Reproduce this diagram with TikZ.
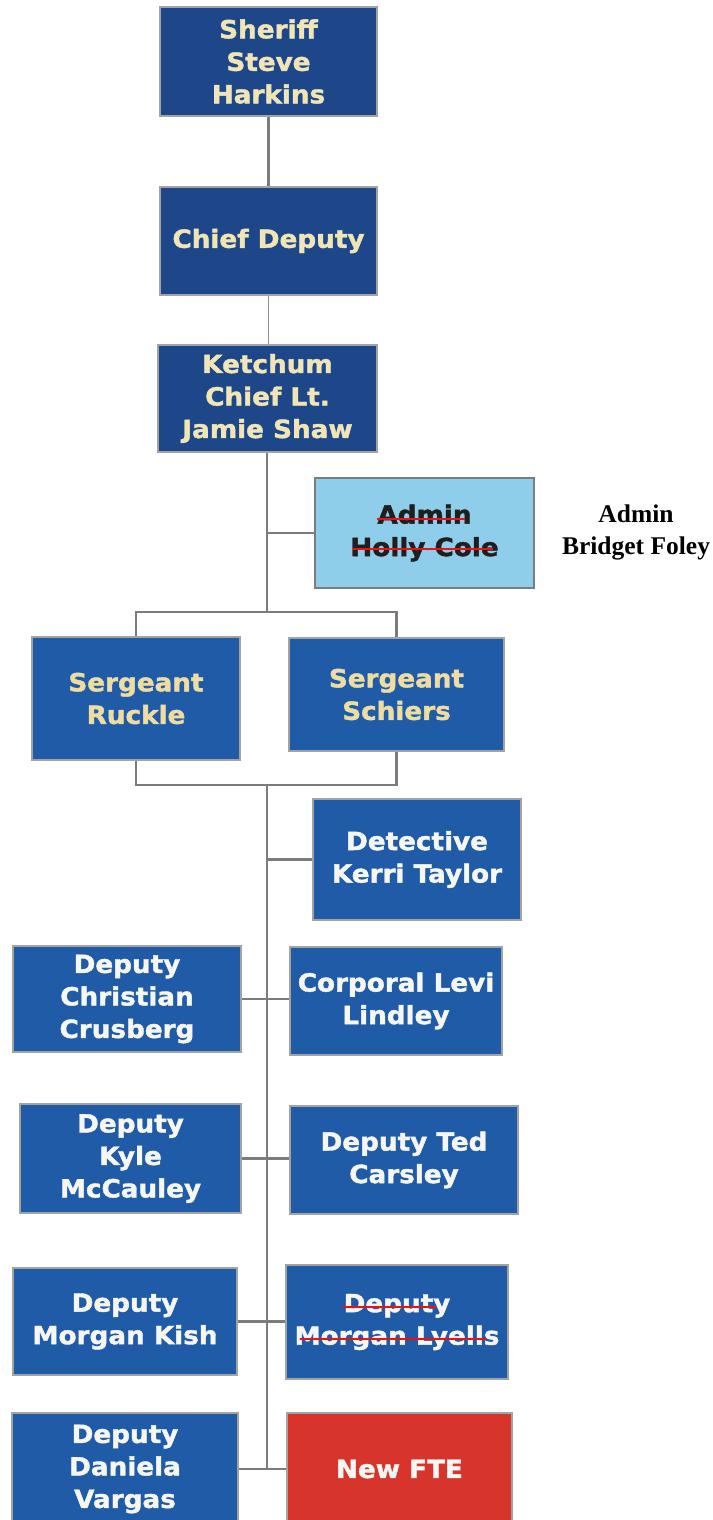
\documentclass[tikz,border=0pt]{standalone}
\usepackage{fontspec}
\newfontfamily\vfont{DejaVu Sans}[BoldFeatures={FakeBold=1.6,FakeStretch=1.05}]
\newfontfamily\sfont{Liberation Serif}
\definecolor{navy}{HTML}{1E4789}
\definecolor{midblue}{HTML}{1F5BA7}
\definecolor{cream}{HTML}{F0E5B6}
\definecolor{sgtcream}{HTML}{EEDDA2}
\definecolor{offwhite}{HTML}{F6F6F2}
\definecolor{adminblue}{HTML}{8FCEEA}
\definecolor{ftered}{HTML}{D7352B}
\definecolor{linegray}{HTML}{7C7C7C}
\definecolor{strike}{HTML}{F01010}
\tikzset{
  box/.style={draw=linegray!70, line width=1.2pt, inner sep=0pt, align=center,
    font=\vfont\bfseries\fontsize{25}{32.5}\selectfont},
  topbox/.style={box, fill=navy, text=cream},
  sgtbox/.style={box, fill=midblue, text=sgtcream},
  depbox/.style={box, fill=midblue, text=offwhite},
  conn/.style={draw=linegray, line width=2.4pt},
  strk/.style={draw=strike, line width=2.8pt},
}
\begin{document}
\begin{tikzpicture}[x=1pt,y=-1pt]
\useasboundingbox (0,0) rectangle (712,1520);
\fill[white] (0,0) rectangle (712,1520);
% nodes
\node[topbox, minimum width=217, minimum height=109] (sheriff) at (268.5,61.5) {Sheriff\\Steve\\Harkins};
\node[topbox, minimum width=217, minimum height=108] (chief) at (268.5,241) {Chief Deputy};
\node[topbox, minimum width=219, minimum height=107] (ketchum) at (267.5,398.5) {Ketchum\\Chief Lt.\\Jamie Shaw};
\node[box, fill=adminblue, draw=linegray, text=black!88, minimum width=219, minimum height=110] (admin) at (424.5,533) {Admin\\Holly Cole};
\node[font=\sfont\bfseries\fontsize{25.5}{32}\selectfont, align=center, inner sep=0pt] (bridget) at (636,532) {Admin\\Bridget Foley};
\node[sgtbox, minimum width=208, minimum height=123] (ruckle) at (136,698.5) {Sergeant\\Ruckle};
\node[sgtbox, minimum width=215, minimum height=113] (schiers) at (396.5,694.5) {Sergeant\\Schiers};
\node[depbox, minimum width=208, minimum height=121] (detective) at (417,859.5) {Detective\\Kerri Taylor};
\node[depbox, minimum width=228, minimum height=106] (crusberg) at (127,999) {Deputy\\Christian\\Crusberg};
\node[depbox, minimum width=212, minimum height=108] (levi) at (396,1001) {Corporal Levi\\Lindley};
\node[depbox, minimum width=221, minimum height=109] (mccauley) at (130.5,1158.5) {Deputy\\Kyle\\McCauley};
\node[depbox, minimum width=228, minimum height=108] (carsley) at (404,1160) {Deputy Ted\\Carsley};
\node[depbox, minimum width=224, minimum height=107] (kish) at (125,1321.5) {Deputy\\Morgan Kish};
\node[depbox, minimum width=222, minimum height=114] (lyells) at (397,1322) {Deputy\\Morgan Lyells};
\node[depbox, minimum width=226, minimum height=112] (vargas) at (125,1469) {Deputy\\Daniela\\Vargas};
\node[box, fill=ftered, text=offwhite, minimum width=225, minimum height=112] (newfte) at (399.5,1469) {New FTE};
% coordinates
\coordinate (tA) at (267,533);
\coordinate (tB) at (267,612);
\coordinate (bL) at (136,612);
\coordinate (cL) at (136,785);
\coordinate (tC) at (267,785);
\coordinate (tD) at (267,859.5);
\coordinate (tE) at (267,1468);
% connectors
\draw[conn] (sheriff.south) -- (chief.north);
\draw[conn, line width=1.9pt, draw=linegray!85] (chief.south) -- (ketchum.north -| chief.south);
\draw[conn] (ketchum.south -| tB) -- (tB);
\draw[conn] (tA) -- (admin.west |- tA);
\draw[conn] (ruckle.north) -- (bL) -- (schiers.north |- bL) -- (schiers.north);
\draw[conn] (ruckle.south) -- (cL) -- (schiers.south |- cL) -- (schiers.south);
\draw[conn] (tC) -- (tE);
\draw[conn] (tD) -- (detective.west |- tD);
\draw[conn] (crusberg.east) -- (levi.west |- crusberg.east);
\draw[conn] (mccauley.east) -- (carsley.west |- mccauley.east);
\draw[conn] (kish.east) -- (lyells.west |- kish.east);
\draw[conn] (vargas.east) -- (newfte.west |- vargas.east);
% strike-throughs
\draw[strk] ([shift={(-48,-14)}]admin.center) -- ([shift={(40,-14)}]admin.center);
\draw[strk] ([shift={(-72,16)}]admin.center) -- ([shift={(68,16)}]admin.center);
\draw[strk] ([shift={(-54,-15)}]lyells.center) -- ([shift={(39,-15)}]lyells.center);
\draw[strk] ([shift={(-97,17)}]lyells.center) -- ([shift={(90,17)}]lyells.center);
\end{tikzpicture}
\end{document}
